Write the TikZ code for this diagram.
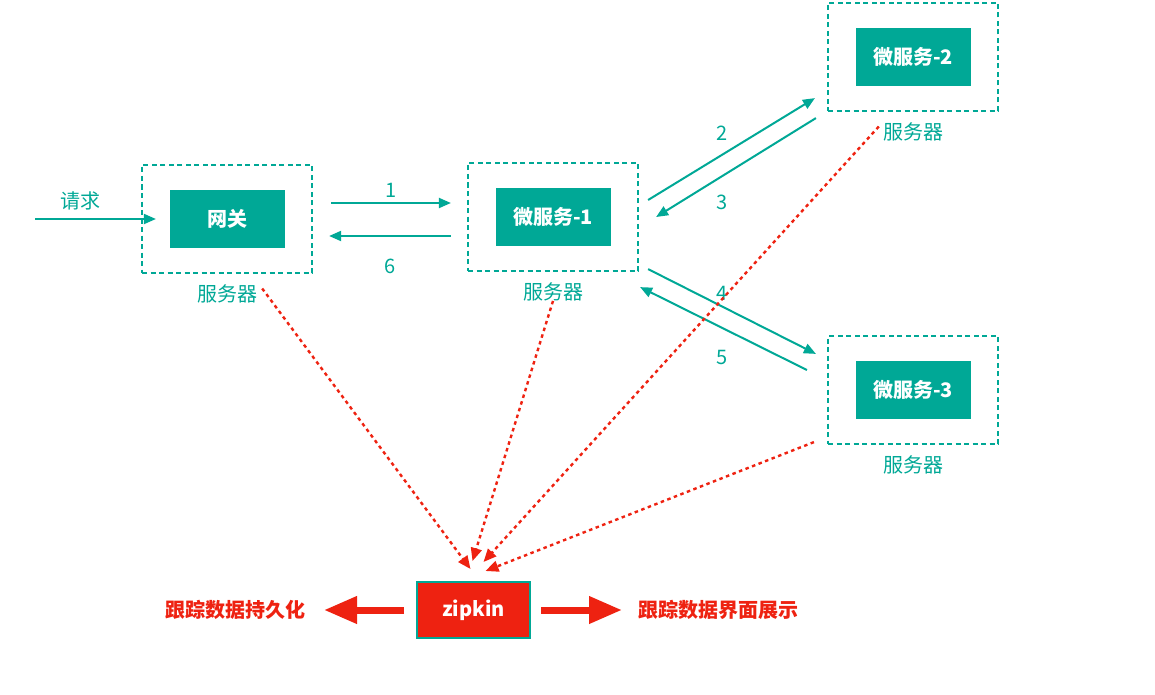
\documentclass[tikz,border=0pt]{standalone}
\usepackage{fontspec}
\usepackage{xcolor}
\newfontfamily\cjk{Noto Sans CJK SC}
\usetikzlibrary{arrows.meta,positioning}
\definecolor{srvteal}{HTML}{00A896}
\definecolor{zkred}{HTML}{EE2211}

\begin{document}
\begin{tikzpicture}[
    x=1pt, y=-1pt,
    font=\cjk\fontsize{20}{24}\selectfont,
    server/.style={draw=srvteal, line width=2.2pt, dash pattern=on 5pt off 3.5pt,
        minimum width=170pt, minimum height=108pt},
    service/.style={fill=srvteal, text=white, font=\cjk\bfseries\fontsize{20}{24}\selectfont,
        minimum width=115pt, minimum height=58pt},
    hostlabel/.style={text=srvteal, inner sep=0pt},
    num/.style={text=srvteal, inner sep=0pt},
    call/.style={-{Triangle[length=12pt,width=10pt]}, srvteal, line width=2pt},
    trace/.style={-{Triangle[length=13pt,width=11pt]}, zkred, line width=2.4pt,
        dash pattern=on 3.5pt off 3.5pt},
    collector/.style={draw=srvteal, line width=2pt, fill=zkred, text=white,
        font=\cjk\bfseries\fontsize{20}{24}\selectfont, minimum width=113pt, minimum height=56pt},
    output/.style={-{Triangle[length=33pt,width=26pt]}, zkred, line width=7pt},
    outlabel/.style={text=zkred, font=\cjk\bfseries\fontsize{20}{24}\selectfont, inner sep=0pt},
]
    \useasboundingbox (0,0) rectangle (1155,695);

    \node[server] (gw) at (227,219) {};
    \node[service] (gwsvc) at (gw.center) {网关};
    \node[hostlabel, below=10pt of gw] (gwhost) {服务器};

    \node[server] (ms1) at (553,217) {};
    \node[service] (ms1svc) at (ms1.center) {微服务-1};
    \node[hostlabel, below=10pt of ms1] (ms1host) {服务器};

    \node[server] (ms2) at (913,57) {};
    \node[service] (ms2svc) at (ms2.center) {微服务-2};
    \node[hostlabel, below=10pt of ms2] (ms2host) {服务器};

    \node[server] (ms3) at (913,390) {};
    \node[service] (ms3svc) at (ms3.center) {微服务-3};
    \node[hostlabel, below=10pt of ms3] (ms3host) {服务器};

    \node[collector] (zipkin) at (473.5,610) {zipkin};
    \node[outlabel, left=110pt of zipkin] (persist) {跟踪数据持久化};
    \node[outlabel, right=107pt of zipkin] (show) {跟踪数据界面展示};

    \coordinate (req) at (35,219);
    \draw[call] (req) -- node[num, pos=.38, above=8pt] {请求} ([xshift=15pt]gw.west);

    \draw[call] ([xshift=18pt,yshift=16pt]gw.east) -- node[num, above=5pt] {1} ([xshift=-16pt,yshift=14pt]ms1.west);
    \draw[call] ([xshift=-16pt,yshift=-19pt]ms1.west) -- node[num, below=22pt] {6} ([xshift=16pt,yshift=-17pt]gw.east);
    \draw[call] ([xshift=9pt,yshift=17pt]ms1.east) -- node[num, xshift=-9pt, yshift=16pt] {2} ([xshift=-12pt,yshift=14pt]ms2.south west);
    \draw[call] ([xshift=-11pt,yshift=-6pt]ms2.south west) -- node[num, xshift=-14pt, yshift=-35pt] {3} ([xshift=17pt]ms1.east);
    \draw[call] ([xshift=9pt,yshift=3pt]ms1.south east) -- node[num, xshift=-10pt, yshift=18pt] {4} ([xshift=-11pt,yshift=-19pt]ms3.north west);
    \draw[call] ([xshift=-20pt,yshift=20pt]ms3.west) -- node[num, xshift=-1pt, yshift=-29pt] {5} ([xshift=1pt,yshift=-15pt]ms1.south east);

    \draw[trace] ([xshift=5pt,yshift=5pt]gwhost.east) -- ([xshift=-3pt,yshift=12pt]zipkin.north);
    \draw[trace] (ms1host.south) -- ([xshift=-1pt,yshift=20pt]zipkin.north);
    \draw[trace] ([xshift=-4pt,yshift=5pt]ms2host.west) -- ([xshift=10pt,yshift=19pt]zipkin.north);
    \draw[trace] ([xshift=-13pt,yshift=3pt]ms3.south west) -- ([xshift=12pt,yshift=10pt]zipkin.north);

    \draw[output] ([xshift=-12pt]zipkin.west) -- ([xshift=18pt]persist.east);
    \draw[output] ([xshift=10pt]zipkin.east) -- ([xshift=-16pt]show.west);
\end{tikzpicture}
\end{document}
